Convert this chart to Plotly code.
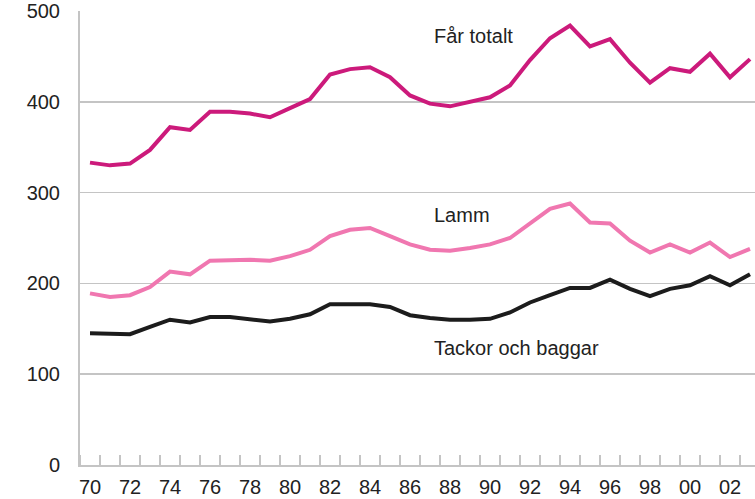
import numpy as np
import plotly.graph_objects as go

years = list(range(1970, 2004))
far_totalt = [333, 330, 332, 347, 372, 369, 389, 389, 387, 383, 393, 403, 430, 436, 438, 427,
              407, 398, 395, 400, 405, 418, 446, 470, 484, 461, 469, 443, 421, 437, 433, 453, 427, 447]
lamm = [189, 185, 187, 196, 213, 210, 225, 226, 226, 225, 230, 237, 252, 259, 261, 252,
        243, 237, 236, 239, 243, 250, 266, 282, 288, 267, 266, 247, 234, 243, 234, 245, 229, 238]
tackor = [145, 144, 144, 152, 160, 157, 163, 163, 161, 158, 161, 166, 177, 177, 177, 174,
          165, 162, 160, 160, 161, 168, 179, 187, 195, 195, 204, 194, 186, 194, 198, 208, 198, 210]

x_tickvals = list(range(1970, 2003, 2))
x_ticktext = [str(y)[-2:] for y in x_tickvals]
y_tickvals = [0, 100, 200, 300, 400, 500]

series_names = ["Får totalt", "Lamm", "Tackor och baggar"]
label_y = [472, 275, 129]

FONT = "Liberation Sans, Arial, sans-serif"
GRID = "#c4c4c4"

fig = go.Figure()
for name, vals, color in [
    (series_names[0], far_totalt, "#cc1a7b"),
    (series_names[1], lamm, "#f077b0"),
    (series_names[2], tackor, "#1c1c1c"),
]:
    fig.add_trace(go.Scatter(x=years, y=vals, mode="lines", name=name,
                             line=dict(color=color, width=4)))

for name, ly in zip(series_names, label_y):
    fig.add_annotation(x=1987.1, y=ly, text=name, showarrow=False, xanchor="left",
                       yanchor="middle", font=dict(family=FONT, size=20, color="#222222"))

fig.update_layout(
    width=755, height=499,
    margin=dict(l=80, r=0, t=11, b=34, autoexpand=False),
    paper_bgcolor="white", plot_bgcolor="white",
    showlegend=False,
    font=dict(family=FONT, size=20, color="#222222"),
)
fig.update_xaxes(
    range=[1969.5, 2003.25], automargin=False,
    tickmode="array", tickvals=x_tickvals, ticktext=x_ticktext,
    ticks="outside", ticklen=3, tickcolor="rgba(0,0,0,0)",
    showgrid=False, zeroline=False,
    showline=True, linecolor=GRID, linewidth=2,
    minor=dict(tickmode="linear", tick0=1969.5, dtick=1, ticks="inside",
               ticklen=10, tickcolor=GRID, tickwidth=2, showgrid=False),
    tickfont=dict(family=FONT, size=20, color="#222222"),
)
fig.update_yaxes(
    range=[0, 500], automargin=False,
    tickmode="array", tickvals=y_tickvals,
    ticks="outside", ticklen=14, tickcolor="rgba(0,0,0,0)",
    showgrid=True, gridcolor=GRID, gridwidth=1.5,
    zeroline=False,
    showline=True, linecolor=GRID, linewidth=2,
    tickfont=dict(family=FONT, size=20, color="#222222"),
)

fig.write_html(
    "out.html",
    config={"displayModeBar": False, "staticPlot": True},
    post_script="document.body.style.margin='0';document.body.style.overflow='hidden';",
)
